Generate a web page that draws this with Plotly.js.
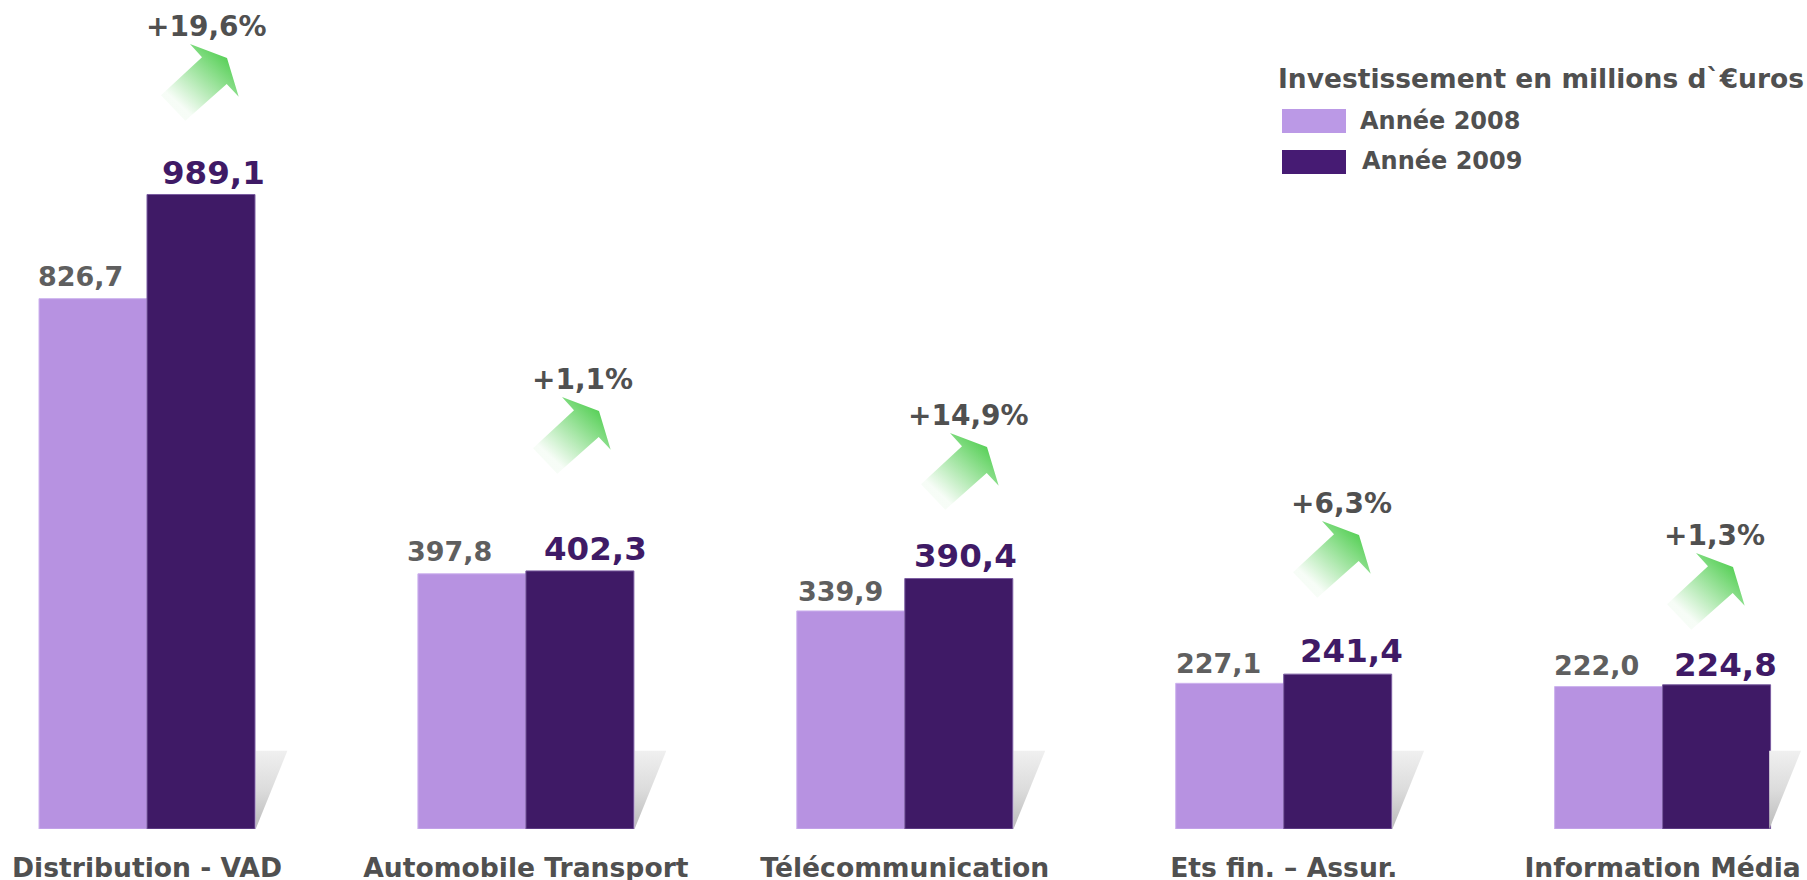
<!DOCTYPE html>
<html><head><meta charset="utf-8">
<script src="https://cdn.plot.ly/plotly-3.0.1.min.js"></script>
<style>html,body{margin:0;padding:0;background:#fff}#c{width:1807px;height:880px}</style></head>
<body><div id="c"></div>
<script>
const categories = ["Distribution - VAD","Automobile Transport","Télécommunication","Ets fin. – Assur.","Information Média"];
const values2008 = [826.7,397.8,339.9,227.1,222.0];
const values2009 = [989.1,402.3,390.4,241.4,224.8];
const labels2008 = ["826,7","397,8","339,9","227,1","222,0"];
const labels2009 = ["989,1","402,3","390,4","241,4","224,8"];
const growth = ["+19,6%","+1,1%","+14,9%","+6,3%","+1,3%"];
const seriesNames = ["Année 2008","Année 2009"];
const legendTitle = "Investissement en millions d`€uros";

const W=1807,H=880,BASE=829,PX=0.6415,PITCH=378.9,C0=147;
const FONT='"DejaVu Sans", Verdana, sans-serif';
const GREY='#505050', DARK='#3f1a66', LIGHT='#b792e1';
const X=p=>(p-C0)/PITCH, Y=p=>(BASE-p)/PX;

const arrowPos=[[161,44],[533,397],[921,433],[1293,521],[1667,553]];
const pctPos=[[206.5,26],[582,379],[968,415],[1341,503],[1714,535]];
const lab08=[[80.3,276.5],[449,551.5],[840,591],[1218,663.5],[1596,665.5]];
const lab09=[[213,172.5],[595,549],[965,555.5],[1351,651],[1725,664.5]];

const arrowSvg='data:image/svg+xml;utf8,'+encodeURIComponent(
`<svg xmlns="http://www.w3.org/2000/svg" width="78" height="77" viewBox="0 0 78 77"><defs><linearGradient id="g" gradientUnits="userSpaceOnUse" x1="62" y1="12" x2="18" y2="60"><stop offset="0" stop-color="#5cd15c"/><stop offset="1" stop-color="#5cd15c" stop-opacity="0.05"/></linearGradient></defs><polygon fill="url(#g)" points="29,0 66,14 77.7,52.7 65.7,40 24.3,76.7 0,51.3 41,13.3"/></svg>`);
const shadowSvg='data:image/svg+xml;utf8,'+encodeURIComponent(
`<svg xmlns="http://www.w3.org/2000/svg" width="32" height="79" viewBox="0 0 32 79"><defs><linearGradient id="s" x1="0" y1="0" x2="0" y2="1"><stop offset="0" stop-color="#f0f0f0"/><stop offset="0.5" stop-color="#dcdcdc"/><stop offset="1" stop-color="#bababa"/></linearGradient></defs><polygon fill="url(#s)" points="0,0 32,0 0,79"/></svg>`);

const xs=categories.map((_,i)=>i);
const barTrace=(name,y,color,edge)=>({type:'bar',name,x:xs,y,marker:{color,line:{color:edge,width:1}},hoverinfo:'name+y'});
const data=[barTrace(seriesNames[0],values2008,LIGHT,'#cdb2ee'),barTrace(seriesNames[1],values2009,DARK,'#7a5ca0')];

const images=[],annotations=[],shapes=[];
const txt=(x,y,text,size,color,anchor='center')=>annotations.push({xref:'x',yref:'y',x:X(x),y:Y(y),text,showarrow:false,xanchor:anchor,yanchor:'middle',font:{family:FONT,size,color,weight:700}});
categories.forEach((c,i)=>{
  images.push({source:arrowSvg,xref:'x',yref:'y',x:X(arrowPos[i][0]),y:Y(arrowPos[i][1]),sizex:78/PITCH,sizey:77/PX,xanchor:'left',yanchor:'top',sizing:'stretch',layer:'above'});
  const sx=C0+i*PITCH+108.5-(i===4?2:0);
  images.push({source:shadowSvg,xref:'x',yref:'y',x:X(sx),y:Y(750.5),sizex:32/PITCH,sizey:79/PX,xanchor:'left',yanchor:'top',sizing:'stretch',layer:i===4?'above':'below'});
  txt(pctPos[i][0],pctPos[i][1],growth[i],28,GREY);
  txt(lab08[i][0],lab08[i][1],labels2008[i],27,'#5f5f5f');
  txt(lab09[i][0],lab09[i][1],labels2009[i],32.5,DARK);
});
txt(1276,78,legendTitle,26.5,GREY,'left');
txt(1358,120.5,seriesNames[0],24,GREY,'left');
txt(1360,160.5,seriesNames[1],24,GREY,'left');
[[109,133,'#bb99e6'],[150,174,'#461b73']].forEach(([a,b,col])=>shapes.push({type:'rect',xref:'x',yref:'y',x0:X(1282),x1:X(1346),y0:Y(b),y1:Y(a),fillcolor:col,line:{width:0}}));

const layout={width:W,height:H,margin:{l:0,r:0,t:0,b:H-BASE},paper_bgcolor:'#fff',plot_bgcolor:'rgba(0,0,0,0)',showlegend:false,barmode:'group',bargap:0.43,bargroupgap:0,
 xaxis:{range:[X(0),X(W)],tickmode:'array',tickvals:xs,ticktext:categories,showgrid:false,zeroline:false,showline:false,ticks:'',tickfont:{family:FONT,size:26.6,color:GREY,weight:700},ticklabelstandoff:20,fixedrange:true},
 yaxis:{range:[0,BASE/PX],visible:false,fixedrange:true},
 images,annotations,shapes};
Plotly.newPlot('c',data,layout,{displayModeBar:false,responsive:false});
</script></body></html>
